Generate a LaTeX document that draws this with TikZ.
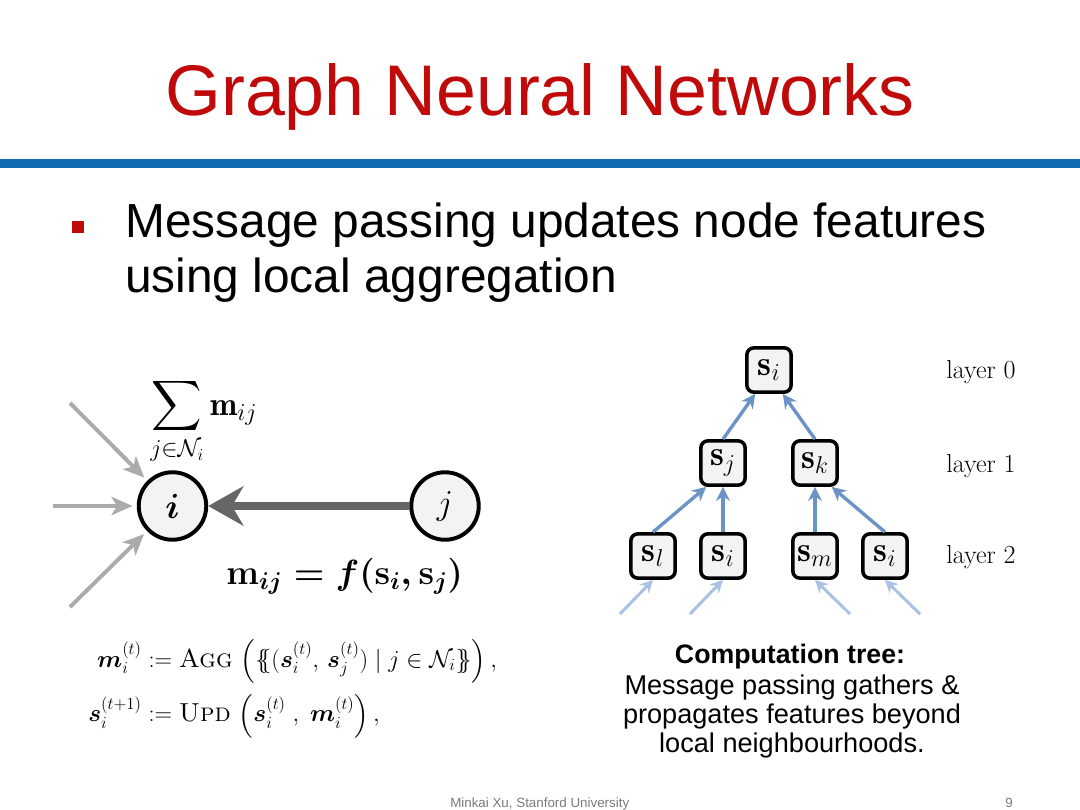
\documentclass[tikz,border=0pt]{standalone}
\usepackage{fontspec}
\usepackage{amsmath}
\usepackage{tikz}
\usetikzlibrary{arrows.meta}
\newfontfamily\slidefont{Liberation Sans}
\definecolor{gnnred}{HTML}{C00A0A}
\definecolor{gnnblue}{HTML}{0F6CB3}
\definecolor{nodefill}{HTML}{F3F3F3}
\definecolor{msggray}{HTML}{666666}
\definecolor{ingray}{HTML}{ABABAB}
\definecolor{treeblue}{HTML}{6C93C6}
\definecolor{treebluelt}{HTML}{A9C1E2}
\definecolor{footgray}{HTML}{7A7A7A}
\tikzset{
  gnode/.style={circle,draw=black,fill=nodefill,line width=2.8pt,minimum size=48pt,inner sep=0pt,font=\fontsize{26}{30}\selectfont},
  featbox/.style={rectangle,rounded corners=5pt,draw=black,fill=nodefill,line width=2.5pt,minimum size=31.5pt,inner sep=0pt,font=\fontsize{25}{28}\selectfont},
  inarrow/.style={ingray,line width=2.8pt,-{Stealth[length=15pt,width=13pt,inset=4pt]},shorten >=3pt},
  msgarrow/.style={msggray,line width=6pt,-{Stealth[length=25pt,width=28pt]}},
  treearrow/.style={treeblue,line width=2.4pt,-{Stealth[length=10pt,width=10pt]}},
  leafarrow/.style={treebluelt,line width=2.1pt,-{Stealth[length=9pt,width=9pt]}},
  layerlbl/.style={anchor=base west,inner sep=0pt,font=\fontsize{18.5}{22}\selectfont},
  capline/.style={anchor=base,inner sep=0pt,font=\slidefont\fontsize{19.3}{22}\selectfont},
  bulletline/.style={anchor=base west,inner sep=0pt,font=\slidefont\fontsize{34}{40}\selectfont},
  mathlbl/.style={anchor=base west,inner sep=0pt,font=\fontsize{23.5}{28}\selectfont},
}
\begin{document}
\begin{tikzpicture}[x=0.025cm,y=-0.025cm]
  \fill[white](0,0) rectangle (1080,810);
  % title and rule
  \node[anchor=base,inner sep=0pt,text=gnnred,font=\slidefont\fontsize{51}{56}\selectfont] (title) at (540,115) {Graph Neural Networks};
  \fill[gnnblue](0,159) rectangle (1080,168);
  % bullet point
  \fill[gnnred](72,221) rectangle (84,233);
  \node[bulletline] (pt1) at (125,237) {Message passing updates node features};
  \node[bulletline] (pt2) at (125,292) {using local aggregation};

  % message passing on node i
  \node[gnode] (i) at (172.5,506) {$\boldsymbol{i}$};
  \node[gnode] (j) at (445,506) {$j$};
  \coordinate (in1) at (70,403);
  \coordinate (in2) at (53,506);
  \coordinate (in3) at (70,607);
  \draw[inarrow] (in1) -- (i);
  \draw[inarrow] (in2) -- (i);
  \draw[inarrow] (in3) -- (i);
  \draw[msgarrow] (j) -- (i);
  \node[mathlbl] (aggsum) at (150,415) {$\displaystyle\sum_{j\in\mathcal{N}_i}\mathbf{m}_{ij}$};
  \node[mathlbl] (msgdef) at (226,584) {$\boldsymbol{\mathbf{m}_{ij}=f(\mathbf{s}_i,\mathbf{s}_j)}$};

  % update equations
  \node[anchor=base west,inner sep=0pt,font=\fontsize{18.5}{22}\selectfont] (eqs) at (88,667)
    {$\begin{aligned}[t]
      \boldsymbol{m}_i^{(t)} &:= \textsc{Agg}\,\left(\{\!\!\{(\boldsymbol{s}_i^{(t)},\,\boldsymbol{s}_j^{(t)})\mid j\in\mathcal{N}_i\}\!\!\}\right),\\[4pt]
      \boldsymbol{s}_i^{(t+1)} &:= \textsc{Upd}\,\left(\boldsymbol{s}_i^{(t)}\;,\;\boldsymbol{m}_i^{(t)}\right),
    \end{aligned}$};

  % computation tree
  \node[featbox] (root) at (769,370) {$\mathbf{s}_i$};
  \node[featbox] (sj) at (723,463) {$\mathbf{s}_j$};
  \node[featbox] (sk) at (815,463) {$\mathbf{s}_k$};
  \node[featbox] (sl) at (653,556) {$\mathbf{s}_l$};
  \node[featbox] (si2) at (723,556) {$\mathbf{s}_i$};
  \node[featbox] (sm) at (815,556) {$\mathbf{s}_m$};
  \node[featbox] (si3) at (885,556) {$\mathbf{s}_i$};
  \draw[treearrow] (sj.north) -- (root.-120);
  \draw[treearrow] (sk.north) -- (root.-60);
  \draw[treearrow] (sl.north) -- (sj.-125);
  \draw[treearrow] (si2.north) -- (sj.south);
  \draw[treearrow] (sm.north) -- (sk.south);
  \draw[treearrow] (si3.north) -- (sk.-55);
  \coordinate (lf1) at (620,614);
  \coordinate (lf2) at (690,614);
  \coordinate (lf3) at (850,614);
  \coordinate (lf4) at (920,614);
  \draw[leafarrow] (lf1) -- (sl.south);
  \draw[leafarrow] (lf2) -- (si2.south);
  \draw[leafarrow] (lf3) -- (sm.south);
  \draw[leafarrow] (lf4) -- (si3.south);
  \node[layerlbl] (lay0) at (946,378) {layer 0};
  \node[layerlbl] (lay1) at (946,472) {layer 1};
  \node[layerlbl] (lay2) at (946,563) {layer 2};

  % caption
  \node[capline,font=\slidefont\bfseries\fontsize{19}{22}\selectfont] (cap0) at (790,663) {Computation tree:};
  \node[capline] (cap1) at (792,694) {Message passing gathers \&};
  \node[capline] (cap2) at (792,723) {propagates features beyond};
  \node[capline] (cap3) at (792,752) {local neighbourhoods.};

  % footer
  \node[anchor=base west,inner sep=0pt,text=footgray,font=\slidefont\fontsize{9.5}{11}\selectfont] (foot) at (450,807) {Minkai Xu, Stanford University};
  \node[anchor=base west,inner sep=0pt,text=footgray,font=\slidefont\fontsize{9.5}{11}\selectfont] (pageno) at (1005,807) {9};
\end{tikzpicture}
\end{document}
